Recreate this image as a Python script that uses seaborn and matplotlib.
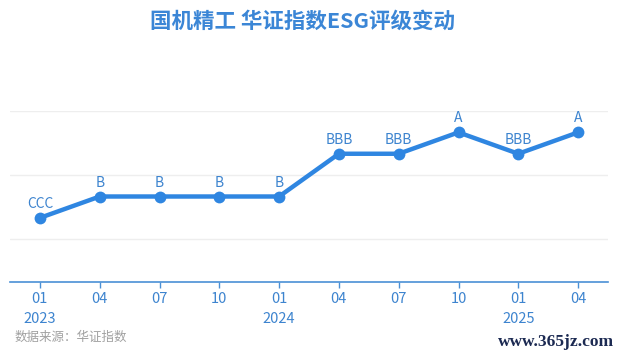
import matplotlib
matplotlib.use("Agg")
import matplotlib.pyplot as plt
import seaborn as sns
import pandas as pd

# Rating history (quarterly)
months = ["01", "04", "07", "10", "01", "04", "07", "10", "01", "04"]
years = ["2023", "", "", "", "2024", "", "", "", "2025", ""]
ratings = ["CCC", "B", "B", "B", "B", "BBB", "BBB", "A", "BBB", "A"]
scale = ["C", "CC", "CCC", "B", "BB", "BBB", "A", "AA", "AAA"]
scale_value = {r: i - 1 for i, r in enumerate(scale)}  # CCC -> 1 ... A -> 5

sns.set_theme(style="white")
plt.rcParams["font.family"] = ["Noto Sans CJK SC", "DejaVu Sans"]

line_color = "#2f86e1"
text_blue = "#3d84cf"

df = pd.DataFrame({
    "pos": range(len(ratings)),
    "score": [scale_value[r] for r in ratings],
    "rating": ratings,
})

fig = plt.figure(figsize=(6.18, 3.55), dpi=100)
W, H = 618, 355
ax = fig.add_axes([10 / W, (H - 282) / H, 598 / W, 171 / H])

sns.lineplot(data=df, x="pos", y="score", ax=ax, color=line_color,
             linewidth=3.2, marker="o", markersize=8.5,
             markeredgewidth=0, markerfacecolor=line_color)

for x, y, r in zip(df["pos"], df["score"], df["rating"]):
    ax.annotate(r, (x, y), xytext=(0, 5), textcoords="offset points",
                ha="center", va="bottom", fontsize=10, color=text_blue)

ax.set_xlim(-0.5, len(ratings) - 0.5)
ax.set_ylim(-2, 6)
ax.set_yticks([0, 3, 6])
ax.set_yticklabels([])
ax.tick_params(axis="y", length=0)
ax.grid(axis="y", color="#eeeeee", linewidth=1)
ax.grid(axis="x", visible=False)

ax.set_xticks(list(df["pos"]))
ax.set_xticklabels([m + ("\n" + y if y else "\n") for m, y in zip(months, years)],
                   fontsize=10.5, color=text_blue, linespacing=1.55)
ax.tick_params(axis="x", length=4, width=1, color="#4a90d6", pad=3,
               bottom=True, direction="out")

for s in ["top", "right", "left"]:
    ax.spines[s].set_visible(False)
ax.spines["bottom"].set_color("#4a90d6")
ax.spines["bottom"].set_linewidth(1.2)
ax.set_xlabel("")
ax.set_ylabel("")

fig.text(303 / W, 1 - 21 / H, "国机精工 华证指数ESG评级变动", ha="center", va="center",
         fontsize=15.5, fontweight="bold", color="#3b86d6")
fig.text(15 / W, 1 - 337 / H, "数据来源：华证指数", ha="left", va="center",
         fontsize=9, color="#a0a0a0")
fig.text(614 / W, 1 - 342 / H, "www.365jz.com", ha="right", va="center",
         fontsize=12.5, color="#1c2a52", family="Liberation Serif", fontweight="bold")

fig.savefig("out.png", dpi=100)
